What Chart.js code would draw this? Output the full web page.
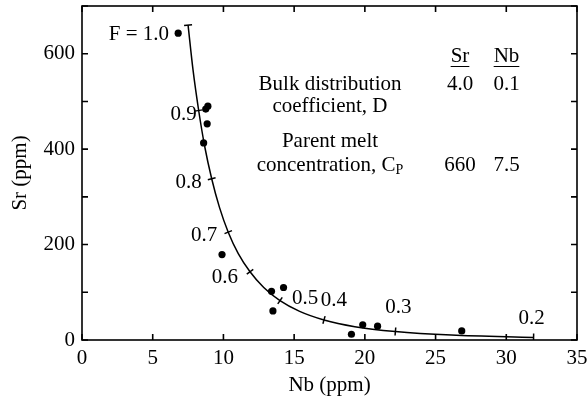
<!DOCTYPE html>
<html><head><meta charset="utf-8">
<script src="https://cdn.jsdelivr.net/npm/chart.js@4/dist/chart.umd.min.js"></script>
<style>html,body{margin:0;padding:0;background:#fff}#wrap{width:588px;height:398px}</style>
</head><body><div id="wrap"><canvas id="c" width="588" height="398"></canvas></div>
<script>
// Model curve (fractional crystallization path)
const curveNb = [7.5, 7.85, 8.25, 8.68, 9.17, 9.72, 10.34, 11.05, 11.88, 12.85, 14.0, 15.39, 17.11, 19.29, 22.16, 26.12, 31.93];
const curveSr = [660, 566, 481, 405, 338, 278, 226, 181, 143, 110, 82.5, 60, 42, 28, 17.8, 10.3, 5.3];
// F tick marks on the curve
const fLabels = ['F = 1.0', '0.9', '0.8', '0.7', '0.6', '0.5', '0.4', '0.3', '0.2'];
const fTickNb = [7.5, 8.25, 9.17, 10.34, 11.88, 14.0, 17.11, 22.16, 31.93];
const fTickSr = [660, 481, 338, 226, 143, 82.5, 42, 17.8, 5.3];
// Sample data
const sampleNb = [6.8, 8.75, 8.9, 8.85, 8.6, 9.9, 13.4, 14.25, 13.5, 19.05, 19.85, 20.9, 26.85];
const sampleSr = [643, 484, 490, 453, 413, 179, 102, 110, 61, 12, 32, 29, 19];
// Axis ticks
const xTickVals = [0, 5, 10, 15, 20, 25, 30, 35];
const yTickVals = [0, 200, 400, 600];
const yMinorVals = [0, 100, 200, 300, 400, 500, 600, 700];
// Inset table
const tableHeads = ['Sr', 'Nb'];
const tableD = ['4.0', '0.1'];
const tableCp = ['660', '7.5'];

const FONT = '"Liberation Serif", "Times New Roman", serif';
const FS = 21;
// styling: tick rotations (perpendicular to curve) and label offsets [dx, dy, align]
const tickRot = [174, 171, 166, 158, 144, 124, 106, 95, 91];
const labelOff = [[-19, 9, 'right'], [-2, 4, 'right'], [-10, 4, 'right'], [-11, 3, 'right'], [-12, 6, 'right'], [12, -2, 'left'], [10, -19, 'center'], [3, -24, 'center'], [-2, -19, 'center']];

const curvePts = curveNb.map((x, i) => ({x, y: curveSr[i]}));
const tickPts = fTickNb.map((x, i) => ({x, y: fTickSr[i]}));
const samplePts = sampleNb.map((x, i) => ({x, y: sampleSr[i]}));

const decor = {
  id: 'decor',
  afterDatasetsDraw(chart) {
    const {ctx, chartArea: a, scales: {x, y}} = chart;
    ctx.save();
    ctx.strokeStyle = '#000';
    ctx.lineWidth = 1.6;
    ctx.strokeRect(a.left, a.top, a.right - a.left, a.bottom - a.top);
    ctx.beginPath();
    xTickVals.forEach(v => {
      const px = x.getPixelForValue(v);
      ctx.moveTo(px, a.bottom); ctx.lineTo(px, a.bottom - 6);
      ctx.moveTo(px, a.top); ctx.lineTo(px, a.top + 6);
    });
    yMinorVals.forEach(v => {
      const py = y.getPixelForValue(v);
      ctx.moveTo(a.left, py); ctx.lineTo(a.left + 6, py);
      ctx.moveTo(a.right, py); ctx.lineTo(a.right - 6, py);
    });
    ctx.stroke();

    ctx.fillStyle = '#000';
    ctx.font = FS + 'px ' + FONT;
    ctx.textBaseline = 'middle';
    fLabels.forEach((t, i) => {
      const px = x.getPixelForValue(fTickNb[i]);
      const py = y.getPixelForValue(fTickSr[i]);
      const o = labelOff[i];
      ctx.textAlign = o[2];
      ctx.fillText(t, px + o[0], py + o[1]);
    });

    // inset table
    const cx = 330, c1 = 460, c2 = 506.5;
    ctx.textBaseline = 'alphabetic';
    ctx.textAlign = 'center';
    [[tableHeads, 62], [tableD, 90], [tableCp, 171]].forEach(([row, by]) => {
      ctx.fillText(row[0], c1, by);
      ctx.fillText(row[1], c2, by);
    });
    ctx.lineWidth = 1.2;
    ctx.beginPath();
    [[tableHeads[0], c1], [tableHeads[1], c2]].forEach(([t, c]) => {
      const w = ctx.measureText(t).width;
      ctx.moveTo(c - w / 2, 66.5); ctx.lineTo(c + w / 2, 66.5);
    });
    ctx.stroke();
    ctx.fillText('Bulk distribution', cx, 90);
    ctx.fillText('coefficient, D', cx, 112);
    ctx.fillText('Parent melt', cx, 147);
    // concentration, C_P
    const main = 'concentration, C';
    const wMain = ctx.measureText(main).width;
    ctx.font = '14px ' + FONT;
    const wSub = ctx.measureText('P').width;
    const start = cx - (wMain + wSub) / 2;
    ctx.textAlign = 'left';
    ctx.font = FS + 'px ' + FONT;
    ctx.fillText(main, start, 171);
    ctx.font = '14px ' + FONT;
    ctx.fillText('P', start + wMain, 174);
    ctx.restore();
  }
};

new Chart(document.getElementById('c'), {
  type: 'scatter',
  data: {
    datasets: [
      {type: 'line', data: curvePts, borderColor: '#000', borderWidth: 1.5, pointRadius: 0, fill: false, cubicInterpolationMode: 'monotone'},
      {data: tickPts, pointStyle: 'line', pointRadius: 4, pointRotation: tickRot, borderColor: '#000', borderWidth: 1.5, backgroundColor: '#000'},
      {data: samplePts, pointStyle: 'circle', pointRadius: 3.6, backgroundColor: '#000', borderColor: '#000', borderWidth: 0}
    ]
  },
  options: {
    responsive: false,
    devicePixelRatio: 1,
    animation: false,
    events: [],
    layout: {padding: {top: 6, right: 11, left: 0, bottom: 0}},
    plugins: {legend: {display: false}, tooltip: {enabled: false}},
    scales: {
      x: {
        type: 'linear', min: 0, max: 35,
        afterBuildTicks: s => { s.ticks = xTickVals.map(v => ({value: v})); },
        afterFit: s => { s.height = 58; s.paddingLeft = 0; s.paddingRight = 0; },
        grid: {display: false, drawTicks: false},
        border: {display: false},
        ticks: {color: '#000', font: {family: FONT, size: FS}, padding: 6, maxRotation: 0},
        title: {display: true, text: 'Nb (ppm)', color: '#000', font: {family: FONT, size: FS, lineHeight: 1.2}, padding: {top: 0, bottom: 0}}
      },
      y: {
        type: 'linear', min: 0, max: 700,
        afterBuildTicks: s => { s.ticks = yTickVals.map(v => ({value: v})); },
        afterFit: s => { s.width = 82; s.paddingTop = 0; s.paddingBottom = 0; },
        grid: {display: false, drawTicks: false},
        border: {display: false},
        ticks: {color: '#000', font: {family: FONT, size: FS}, padding: 7},
        title: {display: true, text: 'Sr (ppm)', color: '#000', font: {family: FONT, size: FS, lineHeight: 1.2}, padding: {top: 8, bottom: 0}}
      }
    }
  },
  plugins: [decor]
});
</script></body></html>
